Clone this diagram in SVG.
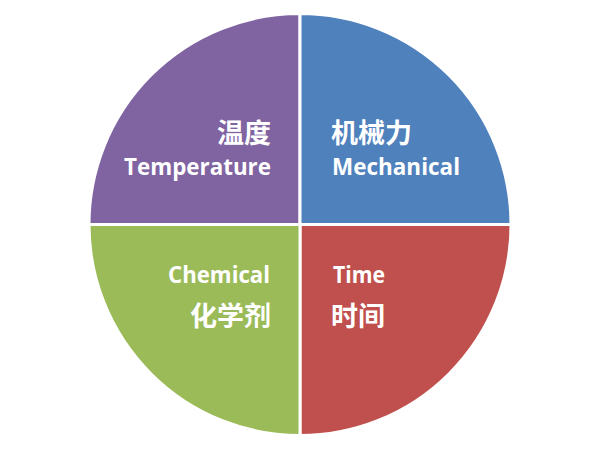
<svg xmlns="http://www.w3.org/2000/svg" width="600" height="450" viewBox="0 0 600 450">
<style>
.q{stroke:#fff;stroke-width:3}
.t{fill:#fff;font-family:"Open Sans","Noto Sans CJK SC",sans-serif;font-weight:700;font-size:23.5px}
.c{fill:#fff;font-family:"Noto Sans CJK SC",sans-serif;font-weight:700;font-size:27px}
.r{text-anchor:end}
</style>
<rect width="600" height="450" fill="#fff"/>
<g id="temperature">
<path class="q" fill="#8064A2" d="M300,224.5 L89,224.5 A211,211 0 0 1 300,13.5 Z"/>
<text class="c r" x="271" y="143">温度</text>
<text class="t r" x="271" y="175" textLength="147" lengthAdjust="spacingAndGlyphs">Temperature</text>
</g>
<g id="mechanical">
<path class="q" fill="#4F81BD" d="M300,224.5 L300,13.5 A211,211 0 0 1 511,224.5 Z"/>
<text class="c" x="331" y="143">机械力</text>
<text class="t" x="332" y="175" textLength="128" lengthAdjust="spacingAndGlyphs">Mechanical</text>
</g>
<g id="time">
<path class="q" fill="#C0504D" d="M300,224.5 L511,224.5 A211,211 0 0 1 300,435.5 Z"/>
<text class="t" x="333" y="283" textLength="52" lengthAdjust="spacingAndGlyphs">Time</text>
<text class="c" x="331" y="326">时间</text>
</g>
<g id="chemical">
<path class="q" fill="#9BBB59" d="M300,224.5 L300,435.5 A211,211 0 0 1 89,224.5 Z"/>
<text class="t r" x="270" y="283" textLength="102" lengthAdjust="spacingAndGlyphs">Chemical</text>
<text class="c r" x="271" y="326">化学剂</text>
</g>
<g id="connectors"/>
</svg>
